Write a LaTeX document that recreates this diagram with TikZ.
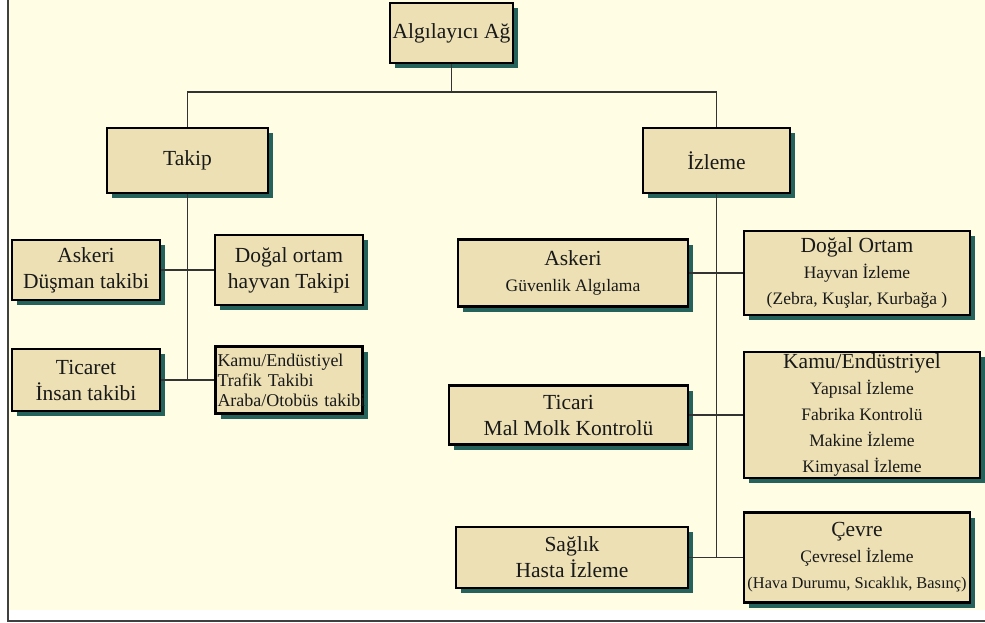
\documentclass[tikz,border=0pt]{standalone}
\usepackage{fontspec}
\setmainfont{Liberation Serif}
\usetikzlibrary{shadows}

\definecolor{paperCream}{RGB}{255,253,228}
\definecolor{boxBeige}{RGB}{236,224,180}
\definecolor{shadowTeal}{RGB}{38,98,92}
\newcommand{\headsize}{\fontsize{21.5}{26}\selectfont}
\newcommand{\subsize}{\fontsize{17.5}{22}\selectfont}
\newcommand{\smallsize}{\fontsize{16.4}{23}\selectfont}

\begin{document}
\begin{tikzpicture}
[x=1pt,y=-1pt,
  lineDecorate/.style={-,line width=1.4pt,draw=black!80},
  nodeDecorate/.style={shape=rectangle,draw=black,line width=2.2pt,fill=boxBeige,
    text=black!90,align=center,inner sep=2pt,font=\headsize,
    drop shadow={fill=shadowTeal,opacity=1,shadow xshift=5pt,shadow yshift=-5pt}}]
\useasboundingbox (0,0) rectangle (985,623);
%% background and frame
\fill[paperCream] (8,0) rectangle (985,610);
\draw[line width=2pt,black!75] (8,0) -- (8,621) -- (985,621);
%% boxes
\foreach \nodename/\x/\y/\w/\h/\txt in {
  root/451.5/33/123/60/{Algılayıcı Ağ},
  takip/187.5/160.5/161/65/{Takip},
  izleme/716.5/160.5/147/65/{İzleme},
  takipAsk/86/270/148/60/{Askeri\\Düşman takibi},
  takipDog/289/270/148/70/{Doğal ortam\\hayvan Takipi},
  takipTic/86/380/148/62/{Ticaret\\İnsan takibi},
  izleAsk/573/273/230/67/{\headsize Askeri\\\subsize Güvenlik Algılama},
  izleDog/857/273/226/84/{\headsize Doğal Ortam\\\subsize Hayvan İzleme\\\subsize (Zebra, Kuşlar, Kurbağa )},
  izleTic/568.5/415/239/59/{Ticari\\Mal Molk Kontrolü},
  izleKamu/862/415/236/114/{\headsize Kamu/Endüstriyel\\\subsize Yapısal İzleme\\\subsize Fabrika Kontrolü\\\subsize Makine İzleme\\\subsize Kimyasal İzleme},
  izleSag/572/557.5/232/61/{Sağlık\\Hasta İzleme},
  izleCev/857/557.5/226/90/{\headsize Çevre\\\subsize Çevresel İzleme\\\smallsize (Hava Durumu, Sıcaklık, Basınç)}}
{
  \node (\nodename) at (\x,\y) [nodeDecorate,minimum width=\w pt,minimum height=\h pt] {\txt};
}
\node (takipKamu) at (289,380) [nodeDecorate,text width=143pt,align=left,inner xsep=2pt,
  minimum height=67pt,font=\fontsize{18}{20}\selectfont]
  {Kamu/Endüstiyel\\Trafik Takibi\\\mbox{Araba/Otobüs takibi}};
%% edges or lines
\coordinate (hub) at (451.5,92);
\coordinate (takipEnd) at (187.5,380);
\coordinate (izleEnd) at (716.5,557.5);
\path
\foreach \startnode/\endnode in {
  root.south/hub, takip.south/takipEnd, izleme.south/izleEnd,
  takipAsk.east/takipDog.west, takipTic.east/takipKamu.west,
  izleAsk.east/izleDog.west, izleTic.east/izleKamu.west,
  izleSag.east/izleCev.west}
{
  (\startnode) edge[lineDecorate] (\endnode)
};
\draw[lineDecorate] (takip.north) |- (hub) -| (izleme.north);
\end{tikzpicture}
\end{document}
